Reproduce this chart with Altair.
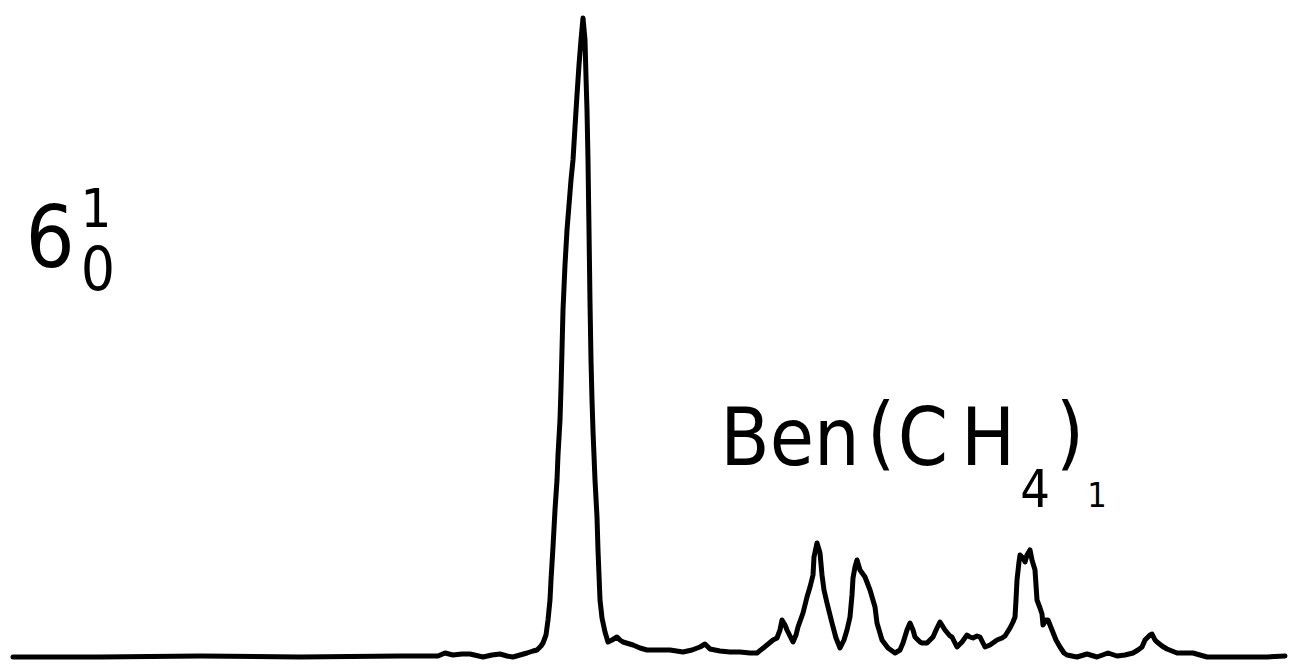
import altair as alt
import pandas as pd

# Spectrum trace (x position, intensity above baseline)
xs = [13, 100, 200, 300, 400, 438, 445, 453, 462, 470, 483, 492, 500, 507, 513, 520, 527, 533, 537, 541,
      543, 546, 548, 550, 551, 553, 555, 557, 558, 560, 561, 562, 563, 565, 567, 569, 571, 573, 575, 577,
      579, 581, 583, 585, 586, 587, 588, 589, 590, 591, 592, 593, 595, 597, 598, 599, 600, 602, 605, 608,
      612, 617, 620, 623, 633, 640, 647, 660, 670, 683, 692, 700, 705, 710, 720, 730, 740, 750, 757, 767,
      773, 777, 780, 782, 785, 787, 790, 793, 796, 798, 803, 807, 810, 813, 814, 817, 820, 822, 824, 827,
      832, 836, 840, 844, 847, 850, 852, 853, 855, 857, 860, 865, 870, 875, 877, 882, 888, 895, 900, 903,
      907, 910, 913, 915, 920, 922, 927, 933, 937, 940, 945, 950, 952, 957, 962, 967, 970, 973, 977, 980,
      985, 990, 997, 1002, 1005, 1010, 1013, 1015, 1016, 1017, 1019, 1020, 1023, 1025, 1027, 1030, 1032, 1035, 1036, 1037,
      1040, 1042, 1043, 1046, 1048, 1050, 1052, 1056, 1060, 1064, 1067, 1077, 1087, 1097, 1108, 1117, 1125, 1133, 1138, 1142,
      1145, 1147, 1150, 1152, 1155, 1157, 1162, 1167, 1177, 1193, 1207, 1233, 1267, 1285]
ypix = [657, 657, 656, 657, 656, 656, 653, 655, 654, 654, 657, 655, 654, 656, 657, 655, 653, 651, 650, 646,
        643, 635, 620, 600, 580, 547, 510, 480, 455, 420, 388, 350, 310, 265, 230, 205, 180, 160, 127, 95,
        65, 40, 18, 40, 77, 110, 160, 230, 302, 360, 400, 431, 480, 517, 550, 575, 600, 618, 632, 642,
        640, 637, 640, 642, 645, 648, 650, 650, 650, 652, 650, 647, 644, 649, 651, 652, 652, 653, 653, 645,
        640, 638, 630, 620, 625, 630, 636, 642, 635, 627, 613, 597, 587, 575, 557, 543, 553, 575, 590, 603,
        623, 638, 648, 640, 630, 617, 595, 578, 567, 560, 570, 577, 590, 607, 623, 640, 648, 653, 650, 643,
        630, 623, 630, 637, 642, 643, 643, 637, 628, 622, 630, 636, 637, 647, 642, 635, 637, 638, 636, 637,
        647, 645, 640, 638, 636, 628, 622, 617, 600, 580, 562, 555, 558, 562, 555, 550, 560, 570, 585, 600,
        608, 614, 625, 620, 620, 625, 630, 640, 647, 653, 655, 657, 654, 657, 653, 656, 655, 653, 650, 647,
        640, 638, 635, 634, 640, 642, 646, 649, 653, 653, 657, 657, 657, 656]
BASE = 657
intensity = [BASE - v for v in ypix]

# Labels (centre x, baseline y in picture pixels)
label_text = ["6", "0", "1", "Ben", "(", "C", "H", "4", ")", "1"]
label_x = [50, 98, 96, 790, 881, 923, 988, 1035, 1070, 1097]
label_y = [267, 290, 227, 465, 460, 465, 465, 507, 460, 507]
label_size = [86, 60, 54, 80, 80, 80, 80, 52, 80, 34]

FONT = "Liberation Sans Narrow, DejaVu Sans Condensed, Liberation Sans, DejaVu Sans"

W, H = 1294, 671
xscale = alt.Scale(domain=[0, W], nice=False, zero=False)
yscale = alt.Scale(domain=[BASE - H, BASE], nice=False, zero=False)

trace = pd.DataFrame({"x": xs, "y": intensity})
labels = pd.DataFrame({"x": label_x, "y": [BASE - v for v in label_y],
                       "t": label_text, "s": label_size})

line = alt.Chart(trace).mark_line(color="black", strokeWidth=5, strokeCap="round",
                                  strokeJoin="round").encode(
    x=alt.X("x:Q", scale=xscale, axis=None),
    y=alt.Y("y:Q", scale=yscale, axis=None),
    order="x:Q",
)

text = alt.Chart(labels).mark_text(align="center", baseline="alphabetic", color="black",
                                   font=FONT, fontWeight="normal").encode(
    x=alt.X("x:Q", scale=xscale, axis=None),
    y=alt.Y("y:Q", scale=yscale, axis=None),
    text="t:N",
    size=alt.Size("s:Q", scale=None, legend=None),
)

chart = alt.layer(line, text).properties(
    width=W, height=H, padding=0, autosize=alt.AutoSizeParams(type="none"),
    background="white",
).configure_view(stroke=None)

chart.save("out.html", embed_options={"renderer": "svg", "actions": False})
